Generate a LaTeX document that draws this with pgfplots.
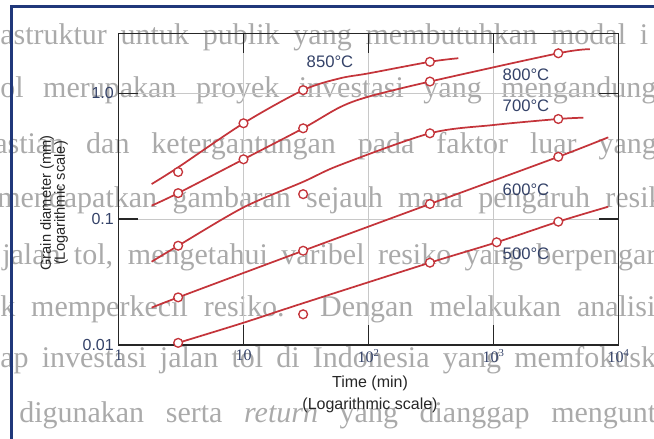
\documentclass[border=0pt]{standalone}
\usepackage{fontspec}
\setmainfont{Liberation Sans}
\newfontfamily\bgserif{Liberation Serif}
\usepackage{pgfplots}
\pgfplotsset{compat=1.18}
\definecolor{curvered}{RGB}{196,52,58}
\definecolor{labelblue}{RGB}{52,66,104}
\definecolor{bgtext}{RGB}{170,170,170}
\definecolor{framenavy}{RGB}{32,56,122}
\definecolor{gridgray}{RGB}{200,200,200}

\begin{document}
\begin{tikzpicture}
\useasboundingbox (0,0) rectangle (490.5pt,329.25pt);

% page text running underneath the chart
\begin{scope}[x=0.75pt,y=-0.75pt,yshift=329.25pt]
  \clip (0,0) rectangle (654,439);
  \tikzset{bgline/.style={anchor=base west, inner sep=0pt, text=bgtext,
      font=\bgserif\fontsize{22.5}{24}\selectfont}}
  \node[bgline] at (0,45)    {\makebox[486pt][s]{astruktur untuk publik yang membutuhkan modal i}};
  \node[bgline] at (0,98)    {\makebox[492pt][s]{ol merupakan proyek investasi yang mengandung}};
  \node[bgline] at (-6,154)  {\makebox[497pt][s]{astian dan ketergantungan pada faktor luar yang}};
  \node[bgline] at (-3,208)  {\makebox[511pt][s]{mendapatkan gambaran sejauh mana pengaruh resiko}};
  \node[bgline] at (2,265)   {\makebox[513pt][s]{jalan tol, mengetahui varibel resiko yang berpengaruh}};
  \node[bgline] at (0,317)   {\makebox[500pt][s]{k memperkecil resiko. Dengan melakukan analisis}};
  \node[bgline] at (0,368)   {\makebox[513pt][s]{ap investasi jalan tol di Indonesia yang memfokuskan}};
  \node[bgline] at (19,423)  {\makebox[544pt][s]{digunakan serta \textit{return} yang dianggap menguntungkan}};
\end{scope}

\begin{axis}[
  at={(88.875pt,70.5pt)}, anchor=south west,
  scale only axis, width=375pt, height=233.8pt,
  xmode=log, ymode=log,
  xmin=1, xmax=10000, ymin=0.01, ymax=3,
  xtick={1,10,100,1000,10000},
  xticklabels={1,10,10\textsuperscript{2},10\textsuperscript{3},10\textsuperscript{4}},
  ytick={0.01,0.1,1},
  yticklabels={0.01,0.1,1.0},
  xminorticks=false, yminorticks=false,
  xtick pos=both, ytick pos=both,
  xticklabel pos=lower, yticklabel pos=left,
  tick align=inside,
  major tick length=15pt,
  grid=major,
  major grid style={gridgray, line width=0.6pt},
  axis line style={black!85, line width=1pt},
  every tick/.style={black!85, line width=1pt},
  xticklabel style={font=\bgserif\fontsize{12}{12}\selectfont, text=labelblue},
  yticklabel style={font=\fontsize{12}{12}\selectfont, text=labelblue},
  clip=false,
]
% grain growth curves
\addplot[curvered, line width=1.3pt, smooth, tension=0.5] coordinates {
  (1.84,0.190) (3,0.258) (10,0.578) (30,1.06) (59,1.315) (100,1.44) (310,1.78) (523,1.90)};
\addplot[curvered, line width=1.3pt, smooth, tension=0.5] coordinates {
  (1.84,0.128) (3,0.161) (10,0.299) (30,0.527) (59,0.775) (100,0.94) (310,1.24) (3300,2.08) (5900,2.24)};
\addplot[curvered, line width=1.3pt, smooth, tension=0.5] coordinates {
  (1.84,0.0459) (3,0.0615) (10,0.124) (30,0.198) (59,0.269) (310,0.481) (1000,0.56) (3300,0.625) (5230,0.640)};
\addplot[curvered, line width=1.3pt, smooth, tension=0.5] coordinates {
  (1.84,0.0198) (3,0.0239) (30,0.0561) (310,0.132) (3300,0.313) (8280,0.447)};
\addplot[curvered, line width=1.3pt, smooth, tension=0.5] coordinates {
  (3,0.0104) (10,0.01503) (30,0.0215) (310,0.0451) (1060,0.0655) (3300,0.0955) (8280,0.1256)};
% measured points
\pgfplotsset{meas/.style={only marks, mark=*, mark size=3.3pt,
    mark options={fill=white, draw=curvered, line width=1pt}}}
\addplot[meas] coordinates {(3,0.237) (10,0.578) (30,1.06) (310,1.78)};
\addplot[meas] coordinates {(3,0.161) (10,0.299) (30,0.527) (310,1.24) (3300,2.08)};
\addplot[meas] coordinates {(3,0.0615) (30,0.158) (310,0.481) (3300,0.625)};
\addplot[meas] coordinates {(3,0.0239) (30,0.0561) (310,0.132) (3300,0.313)};
\addplot[meas] coordinates {(3,0.0104) (30,0.01754) (310,0.0451) (1060,0.0655) (3300,0.0955)};
\end{axis}

% curve labels, axis titles and the page frame
\begin{scope}[x=0.75pt,y=-0.75pt,yshift=329.25pt]
  \tikzset{temp/.style={text=labelblue, font=\fontsize{12.5}{13}\selectfont, inner sep=0pt},
           ttl/.style={text=black!85, font=\fontsize{12}{13}\selectfont, inner sep=0pt}}
  \node[temp] at (330,62)  {850°C};
  \node[temp] at (526,75)  {800°C};
  \node[temp] at (526,106) {700°C};
  \node[temp] at (526,190) {600°C};
  \node[temp] at (526,254) {500°C};
  \node[ttl] at (370,383) {Time (min)};
  \node[ttl] at (370,405) {(Logarithmic scale)};
  \node[ttl, font=\fontsize{11}{12}\selectfont, rotate=90] at (47,203) {Grain diameter (mm)};
  \node[ttl, font=\fontsize{11}{12}\selectfont, rotate=90] at (61,203) {(Logarithmic scale)};
  \draw[framenavy, line width=2.25pt] (11,439) -- (11,7) -- (654,7);
\end{scope}
\end{tikzpicture}
\end{document}
